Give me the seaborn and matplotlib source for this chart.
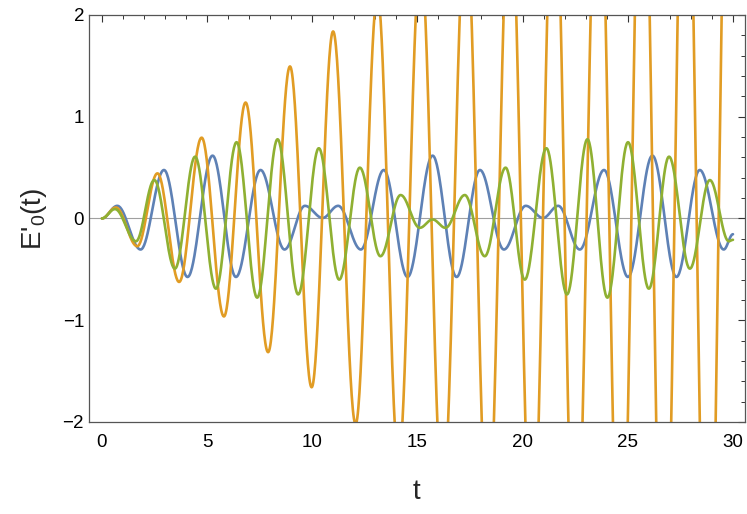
import numpy as np
import pandas as pd
import seaborn as sns
import matplotlib.pyplot as plt
from matplotlib.ticker import MultipleLocator

# extrema (t, value), for each curve
blue_t = [0, 0.73, 1.84, 2.95, 4.07, 5.26, 6.37, 7.54, 8.68, 9.65, 10.49, 11.23,
          12.31, 13.40, 14.53, 15.72, 16.86, 17.97, 19.11, 20.15, 20.97, 21.69,
          22.72, 23.87, 25.01, 26.17, 27.31, 28.42, 29.56, 30]
blue_v = [0, 0.124, -0.305, 0.476, -0.575, 0.617, -0.575, 0.476, -0.305, 0.124, 0.005, 0.124,
          -0.305, 0.476, -0.575, 0.617, -0.575, 0.476, -0.305, 0.124, 0.005, 0.124,
          -0.305, 0.476, -0.575, 0.617, -0.575, 0.476, -0.305, -0.155]

orange_t = [0, 0.66, 1.68, 2.64, 3.67, 4.74, 5.80, 6.83, 7.90, 8.94, 9.97, 10.99,
            12.06, 13.1, 14.1, 15.15, 16.2, 17.3, 18.35, 19.4, 20.45, 21.5, 22.5,
            23.6, 24.65, 25.7, 26.7, 27.75, 28.8, 29.85, 30]
orange_v = [0, 0.108, -0.273, 0.443, -0.624, 0.794, -0.963, 1.139, -1.314, 1.494, -1.659, 1.838,
            -2.02, 2.19, -2.37, 2.55, -2.72, 2.89, -3.06, 3.23, -3.40, 3.57, -3.74,
            3.91, -4.08, 4.25, -4.42, 4.59, -4.76, 4.93, 4.85]

green_t = [0, 0.62, 1.62, 2.49, 3.47, 4.43, 5.42, 6.40, 7.38, 8.35, 9.33, 10.31,
           11.28, 12.26, 13.24, 14.20, 15.11, 15.72, 16.33, 17.25, 18.20, 19.19,
           20.10, 21.13, 22.11, 23.08, 24.03, 25.01, 26.0, 26.96, 27.95, 28.90, 29.8, 30]
green_v = [0, 0.092, -0.224, 0.377, -0.493, 0.607, -0.69, 0.749, -0.778, 0.778, -0.746, 0.690,
           -0.601, 0.499, -0.371, 0.230, -0.092, -0.01, -0.092, 0.230, -0.371, 0.499,
           -0.601, 0.690, -0.746, 0.778, -0.778, 0.749, -0.69, 0.607, -0.493, 0.377, -0.224, -0.21]

names = ["blue", "orange", "green"]
colors = ["#5E81B5", "#E19C24", "#8FB032"]


def smooth(ts, vs, n=40):
    # half-cosine stroke between neighbouring extrema
    tt, vv = [], []
    s = np.linspace(0, 1, n, endpoint=False)
    for i in range(len(ts) - 1):
        tt.append(ts[i] + (ts[i + 1] - ts[i]) * s)
        vv.append(vs[i] + (vs[i + 1] - vs[i]) * (1 - np.cos(np.pi * s)) / 2)
    tt.append([ts[-1]])
    vv.append([vs[-1]])
    return np.concatenate(tt), np.concatenate(vv)


frames = []
for name, ts, vs in zip(names, [blue_t, orange_t, green_t], [blue_v, orange_v, green_v]):
    t, v = smooth(ts, vs)
    frames.append(pd.DataFrame({"t": t, "v": v, "series": name}))
df = pd.concat(frames, ignore_index=True)

sns.set_style("white")
plt.rcParams['font.family'] = ['Liberation Sans', 'DejaVu Sans']
plt.rcParams['mathtext.default'] = 'regular'

fig = plt.figure(figsize=(7.47, 5.14), dpi=100)
ax = fig.add_axes([0.119, 0.179, 0.878, 0.792])

ax.axhline(0, color="#a0a0a0", lw=0.8, zorder=0)
sns.lineplot(data=df, x="t", y="v", hue="series", palette=dict(zip(names, colors)),
             sort=False, estimator=None, lw=1.9, legend=False, ax=ax)

ax.set_xlim(-0.62, 30.56)
ax.set_ylim(-2, 2)
ax.xaxis.set_major_locator(MultipleLocator(5))
ax.xaxis.set_minor_locator(MultipleLocator(1))
ax.yaxis.set_major_locator(MultipleLocator(1))
ax.yaxis.set_minor_locator(MultipleLocator(0.2))
ax.tick_params(which="both", direction="in", top=True, right=True, colors="#333333",
               labelcolor="black", labelsize=13.5)
ax.tick_params(which="major", length=5, width=0.8)
ax.tick_params(which="minor", length=2.8, width=0.7)
ax.tick_params(axis="x", which="major", pad=9)
for sp in ax.spines.values():
    sp.set_color("#555555")
    sp.set_linewidth(0.9)

ax.set_xlabel("t", fontsize=20, labelpad=20)
ax.set_ylabel("E'$_{0}$(t)", fontsize=20, labelpad=10)

fig.savefig("out.png", dpi=100)
